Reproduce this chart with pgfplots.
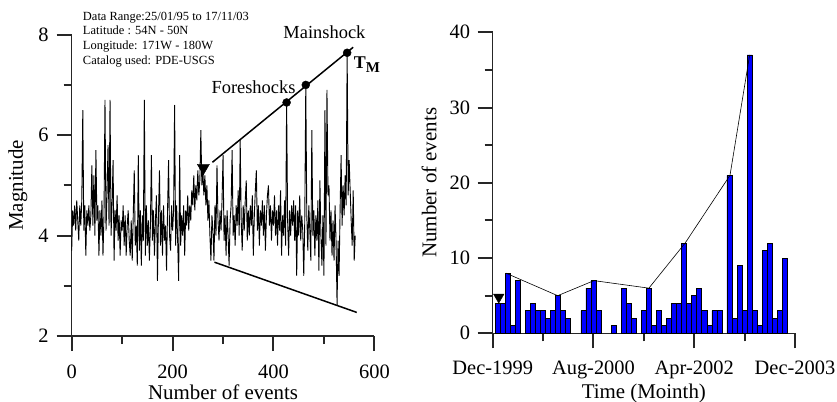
\documentclass[border=0pt]{standalone}
\usepackage{pgfplots}
\pgfplotsset{compat=1.18}
\usepackage{fontspec}
\setmainfont{Liberation Serif}
\definecolor{axgray}{gray}{0.15}
\pgfplotsset{
  mystyle/.style={
    scale only axis,
    axis lines=left,
    axis line style={-, line width=1.2bp, draw=axgray},
    tick align=outside,
    major tick length=15bp,
    minor tick length=8bp,
    every tick/.style={line width=2bp, axgray},
    /pgf/number format/assume math mode=true,
    ticklabel style={font=\fontsize{20.5}{24}\selectfont, inner sep=0pt},
    label style={font=\fontsize{21}{25}\selectfont, inner sep=0pt},
    clip=false,
  }
}
\begin{document}
\begin{tikzpicture}
\begin{axis}[mystyle, at={(0bp,0bp)}, anchor=south west,
  width=302.7bp, height=301.3bp,
  xmin=0, xmax=600, ymin=2, ymax=8,
  xtick={0,200,400,600}, minor xtick={100,300,500},
  ytick={2,4,6,8}, minor ytick={3,5,7},
  xticklabel style={anchor=north, yshift=-14bp},
  yticklabel style={anchor=east, xshift=-8bp},
  xlabel={Number of events}, ylabel={Magnitude},
  xlabel style={at={(axis description cs:0.5,0)}, anchor=north, yshift=-48.5bp},
  ylabel style={at={(axis description cs:0,0.5)}, anchor=south, yshift=44bp}]
\addplot[black, line width=0.9bp, no marks] table[row sep=\\, x expr=\coordindex*2, y index=0] {
3.7\\ 4.5\\ 4.2\\ 4.6\\ 4.1\\ 4.7\\ 4.3\\ 3.9\\ 4.6\\ 4.2\\
4.7\\ 6.5\\ 4.1\\ 4.6\\ 3.6\\ 4.5\\ 4.2\\ 4.6\\ 4.1\\ 4.4\\
5.4\\ 4.2\\ 5.2\\ 4.0\\ 5.7\\ 4.3\\ 4.6\\ 3.6\\ 4.5\\ 4.0\\
4.7\\ 3.6\\ 4.4\\ 6.7\\ 4.1\\ 4.8\\ 5.8\\ 4.2\\ 6.7\\ 4.0\\
4.6\\ 5.5\\ 3.5\\ 4.5\\ 4.1\\ 4.8\\ 3.9\\ 4.4\\ 3.6\\ 4.3\\
4.1\\ 4.6\\ 3.8\\ 4.4\\ 3.6\\ 4.2\\ 4.5\\ 3.9\\ 3.6\\ 4.3\\
3.5\\ 4.4\\ 5.3\\ 3.8\\ 4.2\\ 3.4\\ 5.6\\ 3.7\\ 4.5\\ 3.4\\
4.4\\ 3.9\\ 6.7\\ 3.6\\ 4.6\\ 3.8\\ 4.3\\ 3.5\\ 4.2\\ 5.6\\
3.9\\ 4.5\\ 3.6\\ 4.3\\ 4.8\\ 3.1\\ 4.4\\ 5.3\\ 3.8\\ 4.5\\
3.6\\ 4.6\\ 3.9\\ 4.2\\ 3.3\\ 4.5\\ 5.5\\ 4.0\\ 3.7\\ 4.6\\
4.1\\ 4.5\\ 6.6\\ 3.8\\ 4.6\\ 3.9\\ 3.1\\ 5.6\\ 3.8\\ 4.4\\
4.0\\ 4.6\\ 3.6\\ 4.5\\ 4.2\\ 4.8\\ 4.1\\ 4.6\\ 4.3\\ 4.9\\
4.6\\ 5.2\\ 4.5\\ 5.0\\ 4.7\\ 5.3\\ 4.8\\ 5.1\\ 6.1\\ 5.0\\
5.3\\ 4.8\\ 5.2\\ 4.6\\ 5.0\\ 4.3\\ 4.7\\ 4.0\\ 3.5\\ 4.4\\
4.1\\ 3.5\\ 4.6\\ 4.0\\ 5.4\\ 4.3\\ 3.9\\ 4.5\\ 4.1\\ 4.7\\
5.6\\ 3.9\\ 4.4\\ 3.6\\ 4.5\\ 4.0\\ 3.4\\ 4.3\\ 4.6\\ 5.7\\
4.0\\ 4.4\\ 3.8\\ 4.6\\ 4.2\\ 4.9\\ 4.0\\ 5.9\\ 4.3\\ 3.7\\
4.6\\ 4.1\\ 4.7\\ 5.1\\ 3.9\\ 4.5\\ 4.0\\ 4.6\\ 4.2\\ 4.8\\
3.6\\ 4.4\\ 4.9\\ 5.3\\ 4.1\\ 4.6\\ 3.8\\ 4.5\\ 4.2\\ 4.7\\
4.0\\ 4.6\\ 3.7\\ 4.4\\ 4.8\\ 5.0\\ 4.2\\ 4.6\\ 3.9\\ 4.5\\
4.2\\ 4.8\\ 4.0\\ 4.5\\ 3.8\\ 4.6\\ 4.1\\ 4.9\\ 3.6\\ 4.4\\
4.0\\ 4.7\\ 3.8\\ 6.65\\ 4.3\\ 3.6\\ 4.5\\ 4.0\\ 4.6\\ 4.2\\
4.7\\ 3.9\\ 4.6\\ 3.2\\ 4.5\\ 4.0\\ 4.8\\ 3.9\\ 4.4\\ 4.1\\
3.2\\ 4.3\\ 7.0\\ 4.4\\ 3.7\\ 4.6\\ 4.1\\ 3.5\\ 6.1\\ 4.0\\
4.5\\ 3.6\\ 4.4\\ 3.9\\ 4.7\\ 3.3\\ 5.1\\ 4.0\\ 3.4\\ 4.4\\
3.2\\ 6.5\\ 3.8\\ 6.9\\ 4.8\\ 5.0\\ 3.9\\ 4.5\\ 3.6\\ 4.3\\
3.5\\ 4.6\\ 3.9\\ 2.62\\ 3.9\\ 3.2\\ 4.5\\ 5.6\\ 4.2\\ 5.0\\
4.4\\ 5.2\\ 4.6\\ 7.64\\ 4.8\\ 5.5\\ 4.9\\ 4.3\\ 3.8\\ 4.9\\
3.5\\ 4.0\\
};
\addplot[black, line width=1.5bp, no marks] coordinates {(279,5.46) (558,7.75)};
\addplot[black, line width=1.5bp, no marks] coordinates {(283,3.47) (565,2.47)};
\addplot[black, only marks, mark=*, mark size=4bp] coordinates {(426,6.65) (464,7.0) (546,7.64)};
\addplot[black, only marks, mark=triangle*, mark size=7bp, mark options={rotate=180}] coordinates {(261,5.35)};
\node[anchor=north west, align=left, inner sep=0pt, font=\fontsize{12.5}{14.7}\selectfont] at (axis cs:22,8.46)
  {Data Range:25/01/95 to 17/11/03\\Latitude : 54N - 50N\\Longitude: 171W - 180W\\Catalog used: PDE-USGS};
\node[inner sep=0pt, font=\fontsize{18.5}{22}\selectfont] at (axis cs:501,8.05) {Mainshock};
\node[anchor=east, inner sep=0pt, font=\fontsize{18.5}{22}\selectfont] at (axis cs:444,6.96) {Foreshocks};
\node[inner sep=0pt] at (axis cs:585,7.41) {\fontsize{18}{20}\selectfont\textbf{T}\raisebox{-4bp}{\fontsize{15}{18}\selectfont\textbf{M}}};
\end{axis}

\begin{axis}[mystyle, at={(421bp,2.7bp)}, anchor=south west,
  width=302.3bp, height=301bp,
  xmin=0, xmax=60, ymin=0, ymax=40,
  xtick={0,20,40,60}, xticklabels={Dec-1999,Aug-2000,Apr-2002,Dec-2003},
  minor xtick={10,30,50},
  ytick={0,10,20,30,40}, minor ytick={5,15,25,35},
  xticklabel style={anchor=north, yshift=-12bp},
  yticklabel style={anchor=east, xshift=-7.5bp},
  xlabel={Time (Mointh)}, ylabel={Number of events},
  xlabel style={at={(axis description cs:0.5,0)}, anchor=north, yshift=-50bp},
  ylabel style={at={(axis description cs:0,0.5)}, anchor=south, yshift=56bp}]
\addplot[ybar, bar width=1, fill={rgb,255:red,0;green,0;blue,255}, draw=black, line width=0.6bp] coordinates {
(1,4) (2,4) (3,8) (4,1) (5,7) (7,3) (8,4) (9,3) (10,3) (11,2) (12,3) (13,5) (14,3) (15,2)
(18,3) (19,6) (20,7) (21,3) (24,1) (26,6) (27,4) (28,2) (30,3) (31,6) (32,1) (33,3) (34,1)
(35,2) (36,4) (37,4) (38,12) (39,4) (40,5) (41,6) (42,3) (43,1) (44,3) (45,3) (47,21) (48,2)
(49,9) (50,3) (51,37) (52,3) (53,1) (54,11) (55,12) (56,2) (57,3) (58,10)};
\addplot[black, line width=0.6bp, no marks] coordinates {(2.6,8) (12.9,5) (20.1,7) (31,6) (38.2,12) (47.1,21) (51,37)};
\addplot[black, only marks, mark=triangle*, mark size=6bp, mark options={rotate=180}] coordinates {(1.2,4.8)};
\end{axis}
\pgfresetboundingbox
\useasboundingbox (-71.7bp,-66bp) rectangle (765.3bp,336bp);
\end{tikzpicture}
\end{document}
